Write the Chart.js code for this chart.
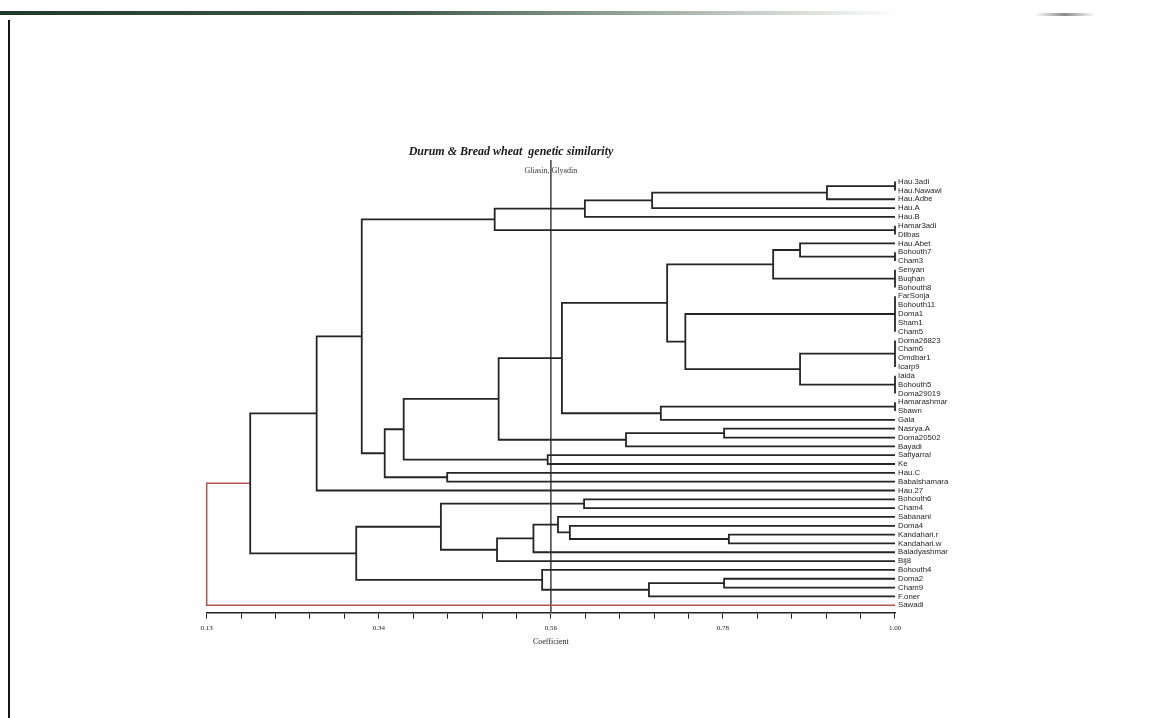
<!DOCTYPE html>
<html>
<head>
<meta charset="utf-8">
<title>Durum &amp; Bread wheat genetic similarity</title>
<script src="https://cdn.jsdelivr.net/npm/chart.js@4.4.1/dist/chart.umd.min.js"></script>
<style>
  html, body { margin: 0; padding: 0; background: #fff; }
  #wrap { position: relative; width: 1166px; height: 718px; overflow: hidden; background: #fff; }
  #scanTop { position: absolute; left: 0; top: 11px; width: 900px; height: 4px;
    background: linear-gradient(to right, #1f3b28, #3f5a47 45%, #b9c3bb 80%, rgba(255,255,255,0)); }
  #scanTop2 { position: absolute; left: 1035px; top: 13px; width: 60px; height: 3px;
    background: linear-gradient(to right, rgba(150,150,150,0), #8a8a8a, rgba(150,150,150,0)); }
  #scanLeft { position: absolute; left: 8px; top: 20px; width: 2px; height: 698px; background: #151515; }
  #chartDendro { position: absolute; left: 0; top: 0; }
</style>
</head>
<body>
<div id="wrap">
  <div id="scanTop"></div>
  <div id="scanTop2"></div>
  <div id="scanLeft"></div>
  <canvas id="chartDendro" width="1166" height="718"></canvas>
</div>
<script>
const chartTitle = 'Durum & Bread wheat  genetic similarity';
const cutoffLabel = 'Gliasin, Glyadin';
const cutoff = 0.565;

const leafLabels = [
  'Hau.3adi', 'Hau.Nawawi', 'Hau.Adbe', 'Hau.A', 'Hau.B', 'Hamar3adi', 'Dilbas',
  'Hau.Abet', 'Bohouth7', 'Cham3', 'Senyan', 'Buqhan', 'Bohouth8', 'FarSonja',
  'Bohouth11', 'Doma1', 'Sham1', 'Cham5', 'Doma26823', 'Cham6', 'Omdbar1',
  'Icarp9', 'Iaida', 'Bohouth5', 'Doma29019', 'Hamarashmar', 'Sbawn', 'Gala',
  'Nasrya.A', 'Doma20502', 'Bayadi', 'Safiyarral', 'Ke', 'Hau.C', 'Babalshamara',
  'Hau.27', 'Bohouth6', 'Cham4', 'Sabanani', 'Doma4', 'Kandahari.r', 'Kandahari.w',
  'Baladyashmar', 'Bij8', 'Bohouth4', 'Doma2', 'Cham9', 'F.oner', 'Sawadi'
];

// clusters: ids 0..48 are leaves, cluster k gets id 49 + k
const nodeChildren = [
  [0, 1], [49, 2], [50, 3], [51, 4], [5, 6], [52, 53],
  [8, 9], [7, 55], [10, 11, 12], [56, 57], [13, 14, 15, 16, 17],
  [18, 19, 20, 21], [22, 23, 24], [60, 61], [59, 62], [58, 63],
  [25, 26], [65, 27], [64, 66], [28, 29], [68, 30], [67, 69],
  [31, 32], [70, 71], [33, 34], [72, 73], [54, 74], [75, 35],
  [36, 37], [40, 41], [39, 78], [38, 79], [80, 42], [81, 43], [77, 82],
  [45, 46], [84, 47], [44, 85], [83, 86], [76, 87], [88, 48]
];
const nodeHeights = [
  1.00, 0.914, 0.693, 0.608, 1.00, 0.494,
  1.00, 0.880, 1.00, 0.846, 1.00,
  1.00, 1.00, 0.880, 0.735, 0.712,
  1.00, 0.704, 0.579, 0.784, 0.660, 0.499,
  0.561, 0.379, 0.434, 0.355, 0.326, 0.269,
  0.607, 0.790, 0.589, 0.574, 0.543, 0.497, 0.426,
  0.784, 0.689, 0.554, 0.319, 0.185, 0.13
];

const xTickLabels = ['0.13', '0.34', '0.56', '0.78', '1.00'];
const xMin = 0.13;
const xMax = 1.00;
const xTickValues = [];
for (let k = 0; k <= 20; k++) xTickValues.push(xMin + k * (xMax - xMin) / 20);

const yMin = -2.45;
const yMax = 48.85;

const lineColor = '#252525';
const rootColor = '#b45252';

buildDendrogram();

function buildDendrogram() {
  const posX = [];
  const posY = [];
  for (let i = 0; i < leafLabels.length; i++) {
    posX.push(1.00);
    posY.push(i);
  }

  const datasets = [];
  const lastNode = nodeChildren.length - 1;

  for (let k = 0; k < nodeChildren.length; k++) {
    const kids = nodeChildren[k];
    const h = nodeHeights[k];
    const first = kids[0];
    const last = kids[kids.length - 1];
    const isRoot = k === lastNode;

    datasets.push({
      data: [
        { x: posX[first], y: posY[first] },
        { x: h, y: posY[first] },
        { x: h, y: posY[last] },
        { x: posX[last], y: posY[last] }
      ],
      showLine: true,
      pointRadius: 0,
      borderColor: isRoot ? rootColor : lineColor,
      borderWidth: isRoot ? 1.5 : 1.8,
      tension: 0,
      clip: false
    });

    // middle members of a tie group
    for (let m = 1; m < kids.length - 1; m++) {
      datasets.push({
        data: [{ x: posX[kids[m]], y: posY[kids[m]] }, { x: h, y: posY[kids[m]] }],
        showLine: true,
        pointRadius: 0,
        borderColor: lineColor,
        borderWidth: 1.8,
        clip: false
      });
    }

    posX.push(h);
    posY.push((posY[first] + posY[last]) / 2);
  }

  // reference line
  datasets.push({
    data: [{ x: cutoff, y: yMin }, { x: cutoff, y: yMax }],
    showLine: true,
    pointRadius: 0,
    borderColor: '#555555',
    borderWidth: 1,
    clip: false
  });

  const textPlugin = {
    id: 'dendroText',
    afterDraw(chart) {
      const ctx = chart.ctx;
      ctx.save();
      ctx.textAlign = 'center';
      ctx.textBaseline = 'middle';
      ctx.fillStyle = '#1a1a1a';
      ctx.font = 'italic bold 12px "Liberation Serif"';
      ctx.fillText(chartTitle, 511, 152);
      ctx.fillStyle = '#3a3a3a';
      ctx.font = '8px "Liberation Serif"';
      ctx.fillText(cutoffLabel, chart.scales.x.getPixelForValue(cutoff), chart.chartArea.top + 11);
      ctx.restore();
    }
  };

  const ctx = document.getElementById('chartDendro').getContext('2d');
  new Chart(ctx, {
    type: 'scatter',
    data: { datasets: datasets },
    plugins: [textPlugin],
    options: {
      responsive: false,
      animation: false,
      layout: {
        padding: { left: 206.7, right: 201, top: 160, bottom: 65.3 }
      },
      plugins: {
        legend: { display: false },
        tooltip: { enabled: false },
        title: { display: false }
      },
      scales: {
        x: {
          type: 'linear',
          position: 'bottom',
          min: xMin,
          max: xMax,
          afterBuildTicks: axis => { axis.ticks = xTickValues.map(v => ({ value: v })); },
          afterFit: axis => { axis.height = 40; },
          grid: { drawOnChartArea: false, drawTicks: true, tickLength: 6, color: '#222', lineWidth: 1 },
          border: { display: true, color: '#222', width: 1.6 },
          ticks: {
            autoSkip: false,
            maxRotation: 0,
            padding: 5,
            color: '#222',
            font: { family: 'Liberation Serif', size: 7 },
            callback: (v, i) => (i % 5 === 0 ? xTickLabels[i / 5] : '')
          },
          title: {
            display: true,
            text: 'Coefficient',
            color: '#222',
            font: { family: 'Liberation Serif', size: 8 },
            padding: { top: 0, bottom: 6 }
          }
        },
        y: {
          type: 'linear',
          position: 'right',
          reverse: true,
          min: yMin,
          max: yMax,
          afterBuildTicks: axis => { axis.ticks = leafLabels.map((_, i) => ({ value: i })); },
          afterFit: axis => { axis.width = 70; },
          grid: { display: false, drawTicks: false },
          border: { display: false },
          ticks: {
            autoSkip: false,
            padding: 3,
            color: '#1f1f1f',
            font: { family: 'Liberation Sans', size: 7.8 },
            callback: v => leafLabels[v]
          }
        }
      }
    }
  });
}
</script>
</body>
</html>
